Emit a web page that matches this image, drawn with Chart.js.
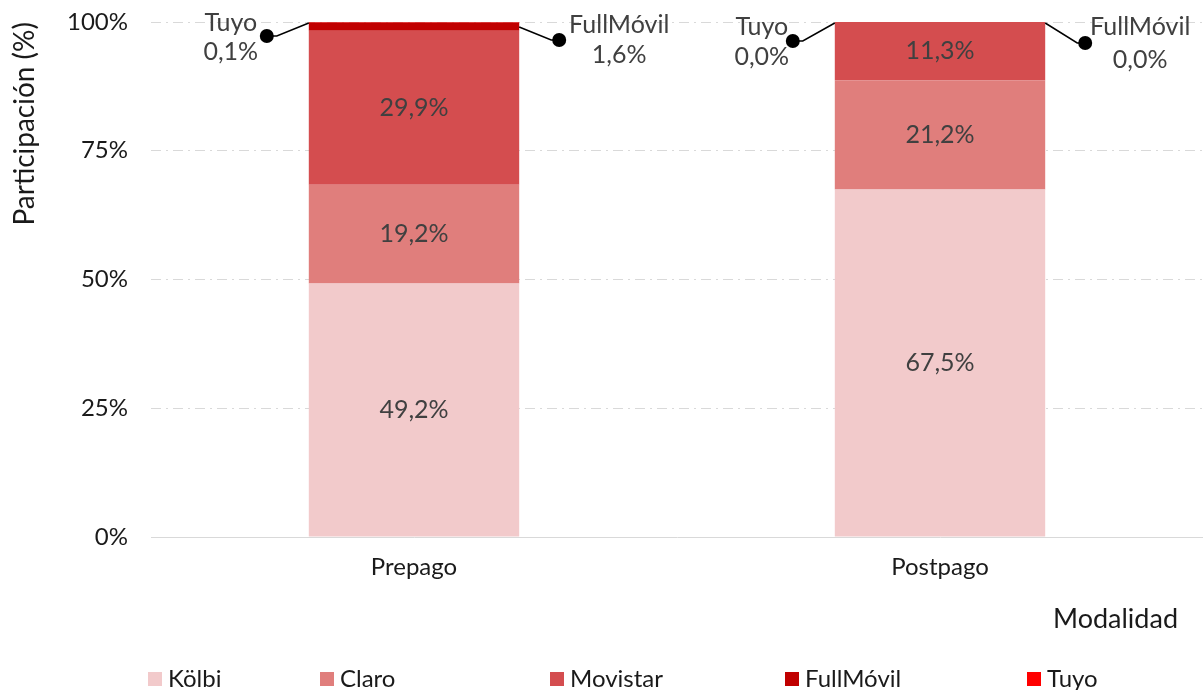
<!DOCTYPE html>
<html><head><meta charset="utf-8">
<script src="https://cdn.jsdelivr.net/npm/chart.js@4"></script>
<style>html,body{margin:0;padding:0;background:#fff}#wrap{width:1203px;height:690px}</style>
</head><body><div id="wrap"><canvas id="c" width="1203" height="690"></canvas></div>
<script>
const categories = ['Prepago', 'Postpago'];
const operators = ['Kölbi', 'Claro', 'Movistar', 'FullMóvil', 'Tuyo'];
const kolbi = [49.2, 67.5];
const claro = [19.2, 21.2];
const movistar = [29.9, 11.3];
const fullmovil = [1.6, 0.0];
const tuyo = [0.1, 0.0];
const yTickValues = [0, 25, 50, 75, 100];
const xAxisTitle = 'Modalidad';
const yAxisTitle = 'Participación (%)';

const colors = ['#F2CACB', '#E07E7C', '#D44D4F', '#C00000', '#FF0000'];
const series = [kolbi, claro, movistar, fullmovil, tuyo];
const FONT = 'Lato, "Open Sans", sans-serif';
const fmt = v => v.toFixed(1).replace('.', ',') + '%';

const segmentLabels = {
  id: 'segmentLabels',
  afterDatasetsDraw(chart) {
    const ctx = chart.ctx;
    ctx.save();
    ctx.font = '25px ' + FONT;
    ctx.fillStyle = '#404040';
    ctx.textAlign = 'center';
    ctx.textBaseline = 'middle';
    for (let d = 0; d < 3; d++) {
      const meta = chart.getDatasetMeta(d);
      meta.data.forEach((bar, i) => {
        const v = chart.data.datasets[d].data[i];
        if (v > 0) ctx.fillText(fmt(v), bar.x, (bar.y + bar.base) / 2);
      });
    }
    ctx.restore();
  }
};

const callouts = {
  id: 'callouts',
  afterDatasetsDraw(chart) {
    const ctx = chart.ctx;
    const metaT = chart.getDatasetMeta(4);
    ctx.save();
    ctx.font = '25px ' + FONT;
    ctx.strokeStyle = '#000';
    ctx.lineWidth = 1.5;
    ctx.textAlign = 'center';
    ctx.textBaseline = 'middle';
    metaT.data.forEach((bar, i) => {
      const left = bar.x - bar.width / 2;
      const right = bar.x + bar.width / 2;
      const top = bar.y;
      const dyL = i === 0 ? 14 : 19;
      const dyR = i === 0 ? 18 : 21;
      // Tuyo on the left
      ctx.beginPath();
      ctx.moveTo(left, top + 1);
      ctx.lineTo(left - 32, top + dyL);
      ctx.lineTo(left - 42, top + dyL);
      ctx.stroke();
      ctx.beginPath();
      ctx.arc(left - 42, top + dyL, 7, 0, Math.PI * 2);
      ctx.fillStyle = '#000';
      ctx.fill();
      ctx.fillStyle = '#404040';
      const lx = left - (i === 0 ? 78 : 73);
      ctx.fillText(operators[4], lx, top + (i === 0 ? 1 : 5));
      ctx.fillText(fmt(chart.data.datasets[4].data[i]), lx, top + (i === 0 ? 30 : 35));
      // FullMóvil on the right
      ctx.beginPath();
      ctx.moveTo(right, top + (i === 0 ? 5 : 1));
      ctx.lineTo(right + 32, top + dyR);
      ctx.lineTo(right + 40, top + dyR);
      ctx.stroke();
      ctx.beginPath();
      ctx.arc(right + 40, top + dyR, 7, 0, Math.PI * 2);
      ctx.fillStyle = '#000';
      ctx.fill();
      ctx.fillStyle = '#404040';
      const rx = right + (i === 0 ? 100 : 95);
      ctx.fillText(operators[3], rx, top + (i === 0 ? 3 : 5));
      ctx.fillText(fmt(chart.data.datasets[3].data[i]), rx, top + (i === 0 ? 33 : 38));
    });
    ctx.restore();
  }
};

const legendPositions = [148, 320, 550, 785, 1027];
const extras = {
  id: 'extras',
  afterDraw(chart) {
    const ctx = chart.ctx;
    ctx.save();
    ctx.font = '24px ' + FONT;
    ctx.textBaseline = 'middle';
    ctx.textAlign = 'left';
    chart.data.datasets.forEach((ds, i) => {
      const x = legendPositions[i];
      const y = 679;
      ctx.fillStyle = ds.backgroundColor;
      ctx.fillRect(x, y - 7, 14, 14);
      ctx.fillStyle = '#1a1a1a';
      ctx.fillText(ds.label, x + 20, y);
    });
    // x axis title
    ctx.textAlign = 'right';
    ctx.font = '27px ' + FONT;
    ctx.fillText(xAxisTitle, 1178, 619);
    ctx.restore();
  }
};

new Chart(document.getElementById('c'), {
  type: 'bar',
  data: {
    labels: categories,
    datasets: operators.map((op, i) => ({
      label: op,
      data: series[i],
      backgroundColor: colors[i],
      borderWidth: 0,
      categoryPercentage: 1,
      barPercentage: 0.4
    }))
  },
  options: {
    responsive: false,
    animation: false,
    devicePixelRatio: 1,
    layout: { padding: { top: 22, bottom: 50, left: 0, right: 0 } },
    plugins: {
      legend: { display: false },
      tooltip: { enabled: false }
    },
    scales: {
      x: {
        stacked: true,
        grid: { display: false },
        border: { display: true, color: '#d9d9d9', width: 1 },
        ticks: { color: '#1a1a1a', font: { size: 24, family: FONT }, padding: 8 },
        afterFit(scale) { scale.height = 103; scale.paddingLeft = 0; scale.paddingRight = 0; }
      },
      y: {
        stacked: true,
        min: 0,
        max: 100,
        afterBuildTicks(scale) { scale.ticks = yTickValues.map(v => ({ value: v })); },
        grid: { color: '#d9d9d9', lineWidth: 1, drawTicks: false },
        border: { display: false, dash: [10, 5, 2, 5] },
        ticks: { color: '#1a1a1a', font: { size: 24, family: FONT }, padding: 23, callback: v => v + '%' },
        title: { display: true, text: yAxisTitle, align: 'end', color: '#1a1a1a', font: { size: 28, family: FONT }, padding: { top: 8, bottom: 0 } },
        afterFit(scale) { scale.width = 151; scale.paddingTop = 0; scale.paddingBottom = 0; }
      }
    }
  },
  plugins: [segmentLabels, callouts, extras]
});
</script>
</body></html>
